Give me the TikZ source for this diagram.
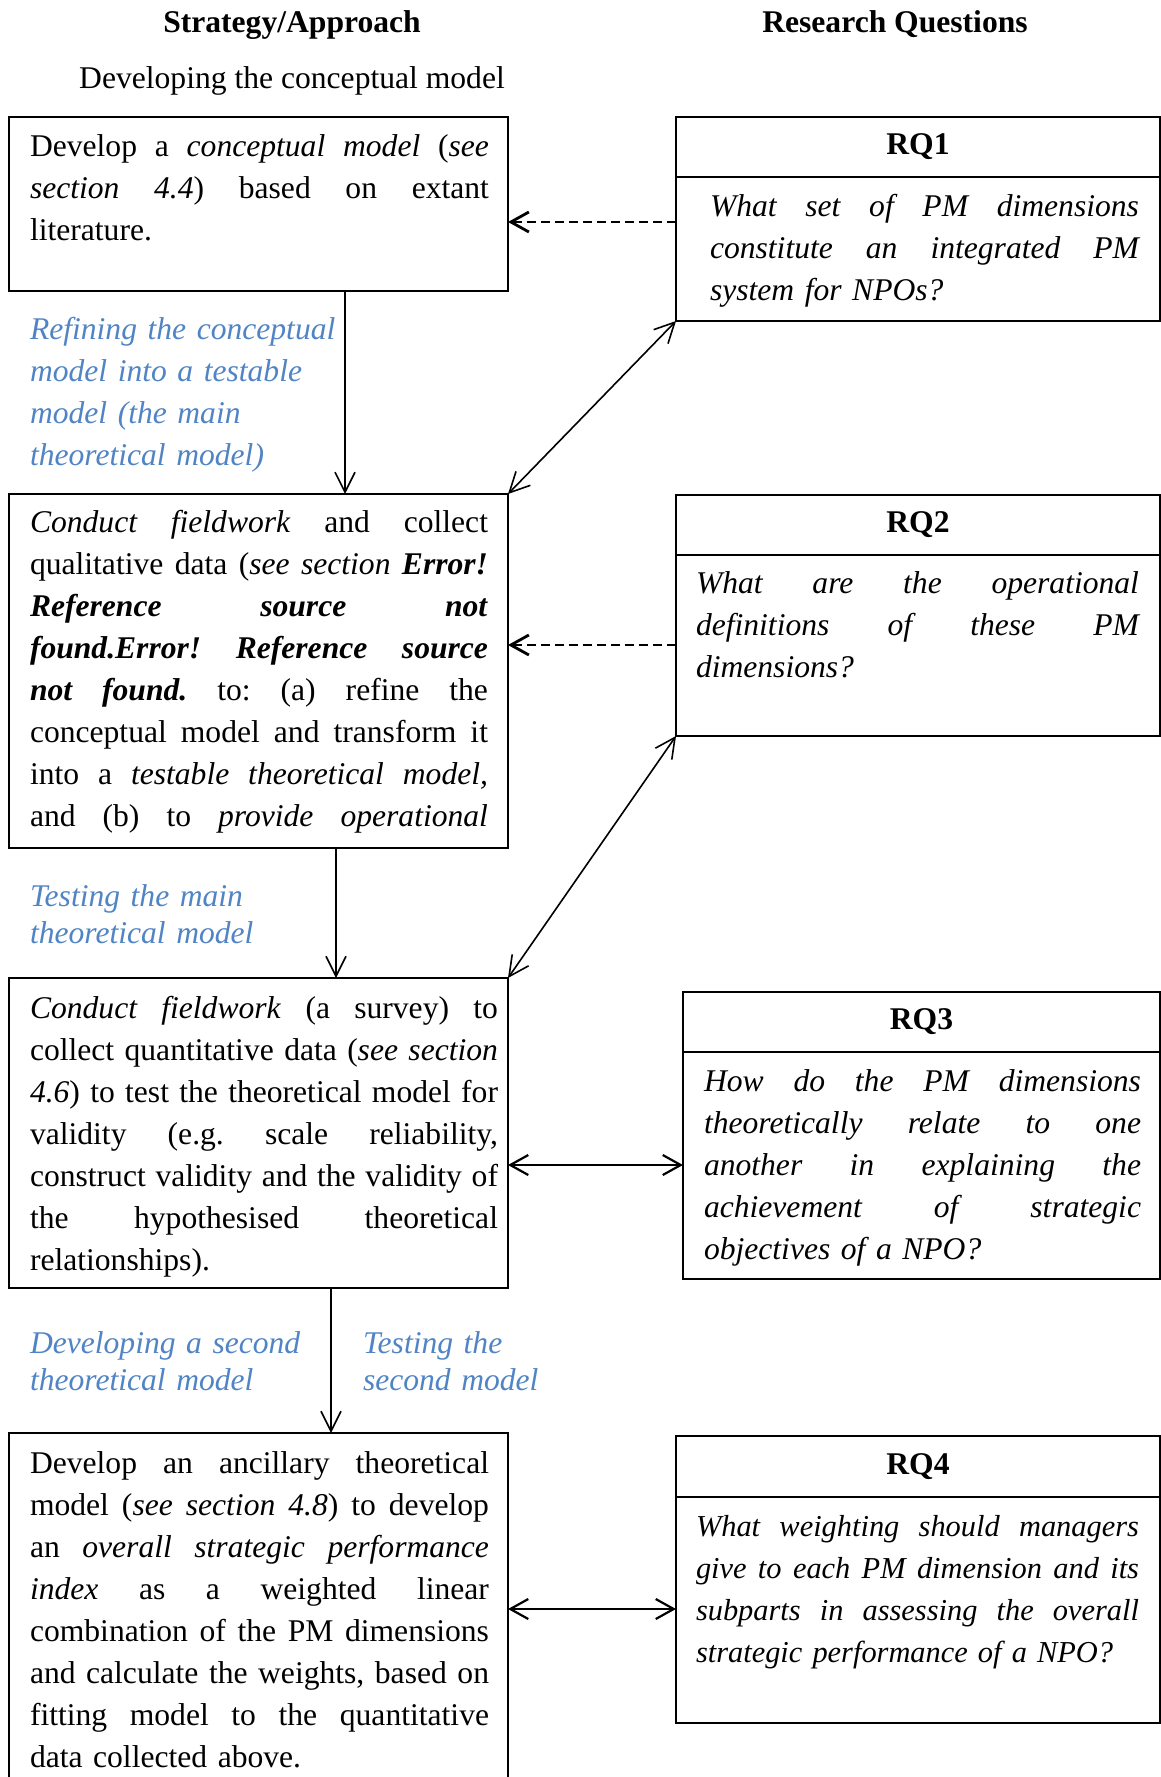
\documentclass[tikz,border=0pt]{standalone}
\usepackage{fontspec}
\setmainfont{Liberation Serif}
\usetikzlibrary{arrows.meta}
\definecolor{noteblue}{RGB}{80,132,196}
% a line stretched to the full measure of its column
\newlength\colw
\newcommand\jl[1]{\leavevmode\hbox to \colw{\frenchspacing\spaceskip=0pt\xspaceskip=0pt #1}}

\begin{document}
\begin{tikzpicture}[x=0.5pt,y=-0.5pt,
  every node/.style={inner sep=0pt, outer sep=0pt},
  txt/.style={font=\fontsize{15.8pt}{21pt}\selectfont},
  frame/.style={draw, line width=0.75pt, rectangle, anchor=north west, minimum width=249.5pt},
  qframe/.style={draw, line width=0.75pt, rectangle, anchor=north west},
  qhead/.style={qframe, font=\fontsize{15.8pt}{21pt}\selectfont\bfseries},
  measure/.style={text width=#1, execute at begin node={\setlength\colw{#1}}},
  body/.style={txt, anchor=base west, measure=#1},
  qbody/.style={body=#1, font=\fontsize{15.8pt}{21pt}\selectfont\itshape},
  note/.style={anchor=base west, text width=200pt, text=noteblue, font=\fontsize{15.8pt}{21pt}\selectfont\itshape},
  tightnote/.style={note, font=\fontsize{15.8pt}{18.5pt}\selectfont\itshape},
  flow/.style={line width=0.8pt, -{Straight Barb[length=10pt,width=10pt]}},
  link/.style={line width=0.8pt, {Straight Barb[length=10pt,width=10pt]}-{Straight Barb[length=10pt,width=10pt]}},
  boldlink/.style={line width=1.1pt, {Straight Barb[length=9pt,width=10pt]}-{Straight Barb[length=9pt,width=10pt]}},
  refer/.style={line width=1.4pt, dash pattern=on 4.5pt off 2.5pt, -{Straight Barb[length=9pt,width=10pt]}}
]
\useasboundingbox (0,0) rectangle (1161,1777);
\clip (0,0) rectangle (1161,1777);

% column titles
\node[txt, anchor=base] (h1) at (292,33) {\textbf{Strategy/Approach}};
\node[txt, anchor=base] (h2) at (895,33) {\textbf{Research Questions}};
\node[txt, anchor=base] (h3) at (292,89) {Developing the conceptual model};

% strategy boxes
\node[frame, minimum height=87pt] (boxA) at (9,117) {};
\node[frame, minimum height=177pt] (boxB) at (9,494) {};
\node[frame, minimum height=155pt] (boxC) at (9,978) {};
\node[frame, minimum height=190pt] (boxD) at (9,1433) {};

\node[body=229.5pt] (tA) at (30,156)
  {\jl{Develop a \textit{conceptual model} (\textit{see}}\\
   \jl{\textit{section 4.4}) based on extant}\\
   literature.};

\node[body=229pt] (tB) at (30,532)
  {\jl{\textit{Conduct fieldwork} and collect}\\
   \jl{qualitative data (\textit{see section} \textbf{\textit{Error!}}}\\
   \jl{\textbf{\textit{Reference source not}}}\\
   \jl{\textbf{\textit{found.Error! Reference source}}}\\
   \jl{\textbf{\textit{not found.}} to: (a) refine the}\\
   \jl{conceptual model and transform it}\\
   \jl{into a \textit{testable theoretical model,}}\\
   \jl{and (b) to \textit{provide operational}}};

\node[body=234pt] (tC) at (30,1018)
  {\jl{\textit{Conduct fieldwork} (a survey) to}\\
   \jl{collect quantitative data (\textit{see section}}\\
   \jl{\textit{4.6}) to test the theoretical model for}\\
   \jl{validity (e.g. scale reliability,}\\
   \jl{construct validity and the validity of}\\
   \jl{the hypothesised theoretical}\\
   relationships).};

\node[body=229.5pt] (tD) at (30,1473)
  {\jl{Develop an ancillary theoretical}\\
   \jl{model (\textit{see section 4.8}) to develop}\\
   \jl{an \textit{overall strategic performance}}\\
   \jl{\textit{index} as a weighted linear}\\
   \jl{combination of the PM dimensions}\\
   \jl{and calculate the weights, based on}\\
   \jl{fitting model to the quantitative}\\
   data collected above.};

% research question boxes
\node[qhead, minimum width=242pt, minimum height=30pt] (rq1h) at (676,117) {\raisebox{-1.5pt}{RQ1}};
\node[qframe, minimum width=242pt, minimum height=72pt] (rq1) at (676,177) {};
\node[qbody=214.5pt] (t1) at (710,216)
  {\jl{What set of PM dimensions}\\
   \jl{constitute an integrated PM}\\
   system for NPOs?};

\node[qhead, minimum width=242pt, minimum height=30pt] (rq2h) at (676,495) {\raisebox{-1.5pt}{RQ2}};
\node[qframe, minimum width=242pt, minimum height=90.5pt] (rq2) at (676,555) {};
\node[qbody=221.5pt] (t2) at (696,593)
  {\jl{What are the operational}\\
   \jl{definitions of these PM}\\
   dimensions?};

\node[qhead, minimum width=238.5pt, minimum height=30pt] (rq3h) at (683,992) {\raisebox{-1.5pt}{RQ3}};
\node[qframe, minimum width=238.5pt, minimum height=113.5pt] (rq3) at (683,1052) {};
\node[qbody=218.5pt] (t3) at (704,1091)
  {\jl{How do the PM dimensions}\\
   \jl{theoretically relate to one}\\
   \jl{another in explaining the}\\
   \jl{achievement of strategic}\\
   objectives of a NPO?};

\node[qhead, minimum width=242pt, minimum height=30.5pt] (rq4h) at (676,1436) {\raisebox{-1.5pt}{RQ4}};
\node[qframe, minimum width=242pt, minimum height=113pt] (rq4) at (676,1497) {};
\node[qbody=221.5pt, font=\fontsize{15.2pt}{21pt}\selectfont\itshape] (t4) at (696,1536)
  {\jl{What weighting should managers}\\
   \jl{give to each PM dimension and its}\\
   \jl{subparts in assessing the overall}\\
   strategic performance of a NPO?};

% stage labels
\node[note] (n1) at (30,339)
  {Refining the conceptual\\model into a testable\\model (the main\\theoretical model)};
\node[tightnote] (n2) at (30,906)
  {Testing the main\\theoretical model};
\node[tightnote] (n3) at (30,1353)
  {Developing a second\\theoretical model};
\node[tightnote] (n4) at (363,1353)
  {Testing the\\second model};

% anchor lines for connectors
\coordinate (xAB) at (345,0);
\coordinate (xBC) at (336,0);
\coordinate (xCD) at (331,0);
\coordinate (y1) at (0,222);
\coordinate (y2) at (0,645);
\coordinate (y3) at (0,1165);
\coordinate (y4) at (0,1609);

% flow between stages
\draw[flow] (boxA.south -| xAB) -- (boxB.north -| xAB);
\draw[flow] (boxB.south -| xBC) -- (boxC.north -| xBC);
\draw[flow] (boxC.south -| xCD) -- (boxD.north -| xCD);

% links to research questions
\draw[refer] (rq1.west |- y1) -- (boxA.east |- y1);
\draw[refer] (rq2.west |- y2) -- (boxB.east |- y2);
\draw[link] (rq1.south west) -- (boxB.north east);
\draw[link] (rq2.south west) -- (boxC.north east);
\draw[boldlink] (boxC.east |- y3) -- (rq3.west |- y3);
\draw[boldlink] (boxD.east |- y4) -- (rq4.west |- y4);
\end{tikzpicture}
\end{document}
